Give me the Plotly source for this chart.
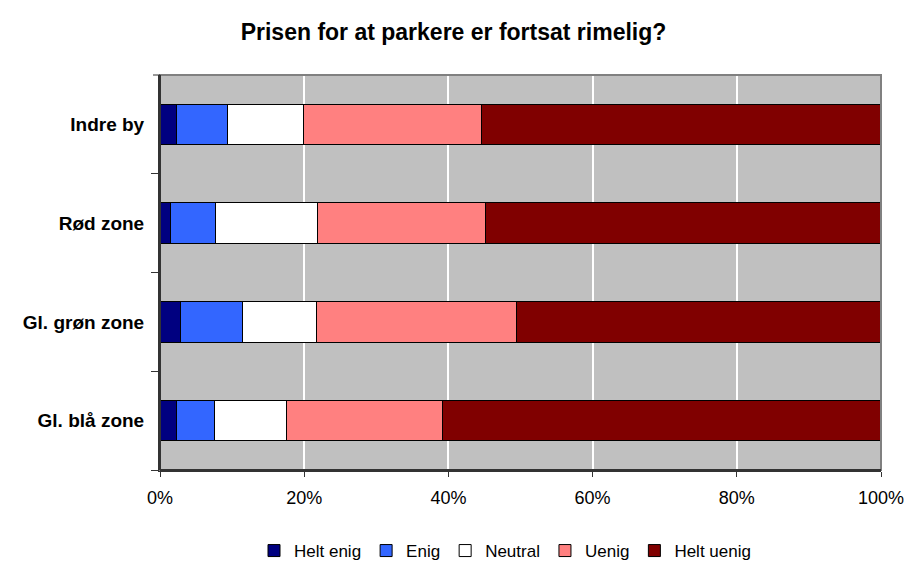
import plotly.graph_objects as go

categories = ["Indre by", "Rød zone", "Gl. grøn zone", "Gl. blå zone"]
series_names = ["Helt enig", "Enig", "Neutral", "Uenig", "Helt uenig"]
helt_enig = [2.3, 1.5, 2.8, 2.3]
enig = [7.1, 6.2, 8.7, 5.2]
neutral = [10.5, 14.2, 10.2, 10.1]
uenig = [24.7, 23.3, 27.8, 21.6]
helt_uenig = [55.4, 54.8, 50.5, 60.8]
colors = ["#000080", "#3366FF", "#FFFFFF", "#FF8080", "#800000"]
x_ticks = [0, 20, 40, 60, 80, 100]
x_tick_labels = ["0%", "20%", "40%", "60%", "80%", "100%"]

values = [helt_enig, enig, neutral, uenig, helt_uenig]
FONT = "Liberation Sans, Arial, sans-serif"

fig = go.Figure()
for name, vals, col in zip(series_names, values, colors):
    fig.add_trace(go.Bar(
        y=categories, x=vals, name=name, orientation="h",
        marker=dict(color=col, line=dict(color="#000000", width=1)),
    ))

W, H = 907, 562
fig.update_layout(
    barmode="stack",
    bargap=0.588,
    width=W, height=H,
    margin=dict(l=160, r=26, t=75, b=92, autoexpand=False),
    paper_bgcolor="#FFFFFF",
    plot_bgcolor="#C0C0C0",
    font=dict(family=FONT, size=18, color="#000000"),
    title=dict(text="<b>Prisen for at parkere er fortsat rimelig?</b>",
               x=0.5, xanchor="center", xref="container",
               y=1 - 32/H, yanchor="middle", yref="container",
               font=dict(size=23)),
    legend=dict(orientation="h", xref="container", x=505/W, xanchor="center",
                yref="container", y=1 - 551/H, yanchor="middle",
                font=dict(size=17), traceorder="normal", itemwidth=30,
                bgcolor="rgba(0,0,0,0)"),
    showlegend=True,
    xaxis=dict(range=[0, 100], tickvals=x_ticks, ticktext=x_tick_labels,
               showgrid=True, gridcolor="#FFFFFF", gridwidth=2,
               zeroline=False, showline=True, linecolor="#333333", linewidth=2,
               ticks="outside", ticklen=5, tickcolor="#333333", tickwidth=1,
               ticklabelstandoff=5, automargin=False,
               tickfont=dict(size=18), fixedrange=True),
    yaxis=dict(categoryorder="array", categoryarray=categories[::-1],
               tickvals=categories, ticktext=["<b>%s</b>" % c for c in categories],
               showgrid=False, zeroline=False, showline=True, linecolor="#333333",
               linewidth=2, ticks="outside", tickson="boundaries", ticklen=7,
               tickcolor="#333333", tickwidth=1, ticklabelstandoff=10,
               automargin=False,
               tickfont=dict(size=19), fixedrange=True),
)

fig.add_shape(type="rect", xref="paper", yref="paper", x0=0, x1=1, y0=0, y1=1,
              line=dict(color="#808080", width=2), layer="above")
# top category boundary tick
fig.add_shape(type="line", xref="paper", yref="paper", x0=-7/721, x1=0, y0=1, y1=1,
              line=dict(color="#333333", width=1))
# redraw left/bottom axis lines over the border
fig.add_shape(type="line", xref="paper", yref="paper", x0=0, x1=0, y0=0, y1=1,
              line=dict(color="#333333", width=2))
fig.add_shape(type="line", xref="paper", yref="paper", x0=0, x1=1, y0=0, y1=0,
              line=dict(color="#333333", width=2))

fig.write_html("out.html", config={"displayModeBar": False},
               post_script="document.body.style.margin='0';document.body.style.overflow='hidden';")
